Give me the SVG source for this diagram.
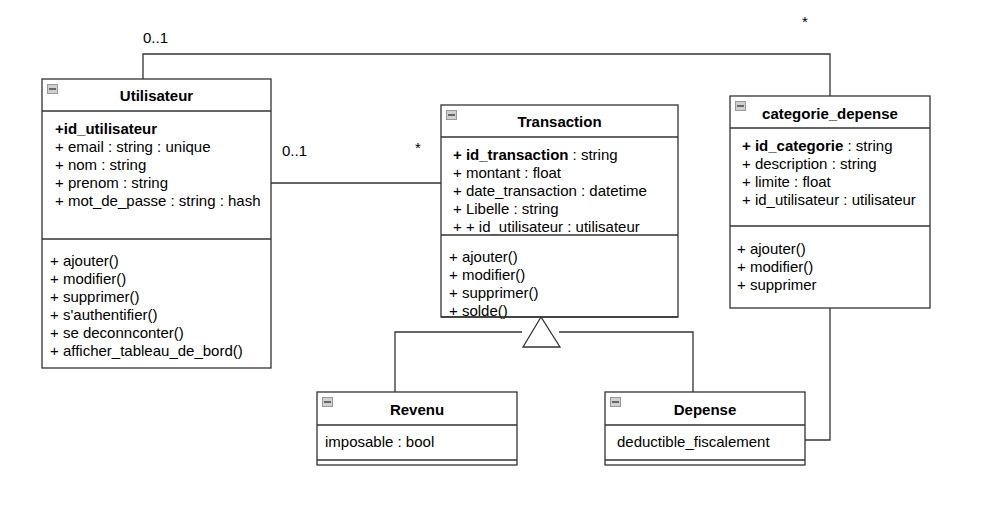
<svg xmlns="http://www.w3.org/2000/svg" width="992" height="527" viewBox="0 0 992 527">
<defs>
<style>
.box{fill:#fff;stroke:#333;stroke-width:1.3}
.sep{stroke:#333;stroke-width:1.3;fill:none}
.conn{stroke:#333;stroke-width:1.3;fill:none}
text{font-family:"Liberation Sans",Arial,sans-serif;font-size:15px;fill:#000}
.title{font-weight:bold;text-anchor:middle}
.b{font-weight:bold}
.icon{fill:#d0d0d0;stroke:#999;stroke-width:1}
.minus{stroke:#444;stroke-width:1.5}
</style>
<g id="ic"><rect class="icon" x="0.5" y="0.5" width="10" height="9"/><line class="minus" x1="2" y1="5" x2="9" y2="5"/></g>
</defs>
<rect width="992" height="527" fill="#fff"/>
<g id="connectors">
<polyline class="conn" points="143,79 143,54 830,54 830,96"/>
<line class="conn" x1="271" y1="183" x2="441" y2="183"/>
<polyline class="conn" points="805,440 830,440 830,308"/>
<polyline class="conn" points="395,392 395,332 522,332"/>
<polyline class="conn" points="693,392 693,332 559,332"/>
<polygon points="541,317 523,347 560,347" fill="#fff" stroke="#333" stroke-width="1.3"/>
<text x="143" y="43">0..1</text>
<text x="802" y="27">*</text>
<text x="282" y="156">0..1</text>
<text x="415" y="153">*</text>
</g>
<g id="utilisateur">
<rect class="box" x="42" y="79" width="229" height="289"/>
<line class="sep" x1="42" y1="111" x2="271" y2="111"/>
<line class="sep" x1="42" y1="239" x2="271" y2="239"/>
<use href="#ic" x="47" y="84"/>
<text class="title" x="156.5" y="101">Utilisateur</text>
<text class="b" x="55" y="134">+id_utilisateur</text>
<text x="55" y="152">+ email : string : unique</text>
<text x="55" y="170">+ nom : string</text>
<text x="55" y="188">+ prenom : string</text>
<text x="55" y="206">+ mot_de_passe : string : hash</text>
<text x="50" y="266">+ ajouter()</text>
<text x="50" y="284">+ modifier()</text>
<text x="50" y="302">+ supprimer()</text>
<text x="50" y="320">+ s'authentifier()</text>
<text x="50" y="338">+ se deconnconter()</text>
<text x="50" y="356">+ afficher_tableau_de_bord()</text>
</g>
<g id="transaction">
<rect class="box" x="441" y="105" width="237" height="212"/>
<line class="sep" x1="441" y1="137" x2="678" y2="137"/>
<use href="#ic" x="446" y="110"/>
<text class="title" x="559.5" y="127">Transaction</text>
<text x="453" y="159.5"><tspan class="b">+ id_transaction</tspan> : string</text>
<text x="453" y="177.5">+ montant : float</text>
<text x="453" y="195.5">+ date_transaction : datetime</text>
<text x="453" y="213.5">+ Libelle : string</text>
<text x="453" y="231.5">+ + id_utilisateur : utilisateur</text>
<rect x="442" y="233.5" width="235" height="1.2" fill="#fff"/>
<line class="sep" x1="441" y1="235" x2="678" y2="235"/>
<text x="449" y="261.5">+ ajouter()</text>
<text x="449" y="279.5">+ modifier()</text>
<text x="449" y="297.5">+ supprimer()</text>
<text x="449" y="315.5">+ solde()</text>
<line class="sep" x1="441" y1="317" x2="678" y2="317"/>
</g>
<g id="categorie_depense">
<rect class="box" x="730" y="96" width="200" height="212"/>
<line class="sep" x1="730" y1="128" x2="930" y2="128"/>
<line class="sep" x1="730" y1="226" x2="930" y2="226"/>
<use href="#ic" x="735" y="101"/>
<text class="title" x="830" y="119">categorie_depense</text>
<text x="742" y="150.5"><tspan class="b">+ id_categorie</tspan> : string</text>
<text x="742" y="168.5">+ description : string</text>
<text x="742" y="186.5">+ limite : float</text>
<text x="742" y="204.5">+ id_utilisateur : utilisateur</text>
<text x="737" y="254">+ ajouter()</text>
<text x="737" y="272">+ modifier()</text>
<text x="737" y="290">+ supprimer</text>
</g>
<g id="revenu">
<rect class="box" x="317" y="392" width="200" height="73"/>
<line class="sep" x1="317" y1="425" x2="517" y2="425"/>
<line class="sep" x1="317" y1="460" x2="517" y2="460"/>
<use href="#ic" x="322" y="397"/>
<text class="title" x="417" y="415">Revenu</text>
<text x="325" y="447">imposable : bool</text>
</g>
<g id="depense">
<rect class="box" x="605" y="392" width="200" height="73"/>
<line class="sep" x1="605" y1="425" x2="805" y2="425"/>
<line class="sep" x1="605" y1="460" x2="805" y2="460"/>
<use href="#ic" x="610" y="397"/>
<text class="title" x="705" y="415">Depense</text>
<text x="617" y="447">deductible_fiscalement</text>
</g>
</svg>
